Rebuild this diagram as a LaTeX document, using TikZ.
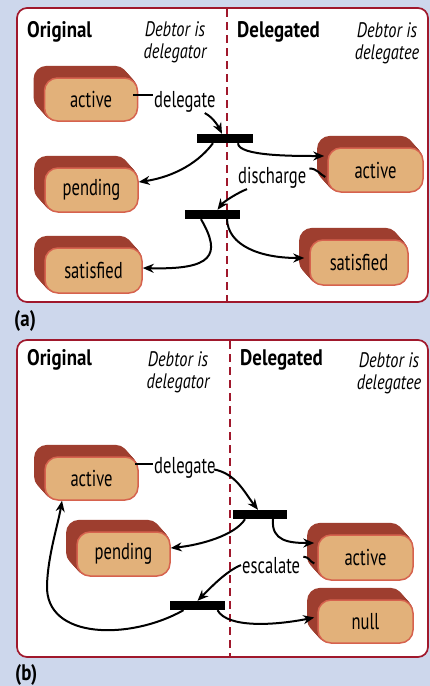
\documentclass[tikz,border=0pt]{standalone}
\usepackage{fontspec}
\setmainfont{PT Sans}[FakeStretch=0.72, BoldFeatures={FakeStretch=0.84}, ItalicFeatures={FakeStretch=0.78}]
\usetikzlibrary{arrows.meta,calc}

\definecolor{bgblue}{RGB}{205,215,236}
\definecolor{panelred}{RGB}{160,24,44}
\definecolor{facetan}{RGB}{226,177,122}
\definecolor{facerim}{RGB}{214,98,78}
\definecolor{extrude}{RGB}{158,62,47}

\pgfdeclarelayer{panel}
\pgfdeclarelayer{depth}
\pgfsetlayers{panel,depth,main}

\tikzset{
  stbox/.style={draw=facerim, fill=facetan, line width=1.5pt, rounded corners=13pt,
    minimum height=43pt, inner sep=0pt, font=\fontsize{23}{24}\selectfont},
  bar/.style={fill=black, minimum width=55pt, minimum height=9pt, inner sep=0pt},
  lbl/.style={font=\fontsize{23}{24}\selectfont, inner sep=1pt},
  hdr/.style={font=\fontsize{22.5}{24}\selectfont\bfseries, inner sep=0pt},
  hdri/.style={font=\fontsize{21}{21.5}\selectfont\itshape, inner sep=0pt, align=center},
  conn/.style={line width=2pt},
  arr/.style={line width=2pt, -{Stealth[length=11pt,width=9pt]}},
  divider/.style={panelred, line width=2pt, dash pattern=on 8pt off 5pt},
  frame/.style={draw=panelred, fill=white, line width=1.7pt, rounded corners=10pt},
}

% solid depth behind a state box, built from stacked copies of its face
\newcommand\depthof[1]{%
  \begin{pgfonlayer}{depth}
    \foreach \k in {1,...,12}{
      \fill[extrude, rounded corners=13pt]
        ($(#1.south west)+(-\k*0.85,-\k*0.95)$) rectangle ($(#1.north east)+(-\k*0.85,-\k*0.95)$);
    }
  \end{pgfonlayer}}

\begin{document}
\begin{tikzpicture}[x=1pt,y=-1pt]
  \useasboundingbox (0,0) rectangle (430,686);
  \begin{pgfonlayer}{panel}
    \fill[bgblue] (0,0) rectangle (430,686);
    \draw[frame] (17,8) rectangle (428,302);
    \draw[frame] (17,340) rectangle (428,657);
    \draw[divider] (227,9) -- (227,301);
    \draw[divider] (230,341) -- (230,656);
  \end{pgfonlayer}

  % ---------- (a) ----------
  \node[hdr, anchor=base west] (a-orig) at (27,37) {Original};
  \node[hdri, anchor=base] (a-dtr) at (175,58) {Debtor is\\delegator};
  \node[hdr, anchor=base west] (a-dlg) at (237,37) {Delegated};
  \node[hdri, anchor=base] (a-dte) at (387,59) {Debtor is\\delegatee};

  \node[stbox, minimum width=93pt] (a-act) at (91,99.5) {active};
  \node[stbox, minimum width=93pt, minimum height=44pt] (a-pend) at (91.5,190) {pending};
  \node[stbox, minimum width=97pt, minimum height=45pt] (a-sat) at (93.5,270.5) {satisfied};
  \node[stbox, minimum width=95pt, minimum height=44pt] (a-act2) at (375.5,170) {active};
  \node[stbox, minimum width=98pt, minimum height=45pt] (a-sat2) at (359,262.5) {satisfied};
  \depthof{a-act}\depthof{a-pend}\depthof{a-sat}\depthof{a-act2}\depthof{a-sat2}

  \node[bar, minimum width=56pt] (a-bar1) at (225,138.5) {};
  \node[bar] (a-bar2) at (212.5,214.5) {};

  \node[lbl, anchor=base west] (a-ldel) at (153,107) {delegate};
  \node[lbl, anchor=base west] (a-ldis) at (237,183) {discharge};

  \draw[conn] ([xshift=-5pt,yshift=5pt]a-act.east) -- ([yshift=5pt]a-act.east -| a-ldel.west);
  \draw[arr] ([xshift=-12pt]a-ldel.south east) .. controls +(8,4) and +(-4,-8) .. ([xshift=-3pt]a-bar1.north);
  \draw[arr] ([xshift=-12pt]a-bar1.south) .. controls +(-18,24) and +(28,-4) .. ([yshift=8pt]a-pend.east);
  \draw[arr] ([xshift=13pt]a-bar1.south) .. controls +(0,13) and +(-30,0) .. ([xshift=-3pt,yshift=14pt]a-act2.west);
  \draw[conn] ([xshift=2pt,yshift=-3pt]a-ldis.north east) .. controls +(8,0) and +(-6,-3) .. ([xshift=-2pt,yshift=-7pt]a-act2.west);
  \draw[arr] ([xshift=10pt]a-ldis.south west) .. controls +(-10,4) and +(6,-8) .. ([xshift=5pt]a-bar2.north);
  \draw[arr] ([xshift=-11.5pt]a-bar2.south) .. controls +(21,36) and +(70,2) .. ([yshift=2.5pt]a-sat.east);
  \draw[arr] ([xshift=14.5pt]a-bar2.south) .. controls +(1,26) and +(-45,0) .. ([xshift=-5pt,yshift=4.5pt]a-sat2.west);

  \node[hdr, anchor=base west] (a-tag) at (14,326) {(a)};

  % ---------- (b) ----------
  \node[hdr, anchor=base west] (b-orig) at (27,365) {Original};
  \node[hdri, anchor=base] (b-dtr) at (178,388) {Debtor is\\delegator};
  \node[hdr, anchor=base west] (b-dlg) at (240,365) {Delegated};
  \node[hdri, anchor=base] (b-dte) at (389,389) {Debtor is\\delegatee};

  \node[stbox, minimum width=93pt] (b-act) at (91.5,478.5) {active};
  \node[stbox, minimum width=93pt, minimum height=44pt] (b-pend) at (123.5,554) {pending};
  \node[stbox, minimum width=95pt, minimum height=45pt] (b-act2) at (365.5,557.5) {active};
  \node[stbox, minimum width=95pt] (b-null) at (365.5,621.5) {null};
  \depthof{b-act}\depthof{b-pend}\depthof{b-act2}\depthof{b-null}

  \node[bar, minimum width=54pt] (b-bar1) at (260,514.5) {};
  \node[bar] (b-bar2) at (197.5,605.5) {};

  \node[lbl, anchor=base west] (b-ldel) at (153,473) {delegate};
  \node[lbl, anchor=base west] (b-lesc) at (241,573) {escalate};
  \coordinate (b-loop) at (47,585);

  \draw[conn] ([xshift=-4pt,yshift=15pt]b-act.east) -- ([yshift=15pt]b-act.east -| b-ldel.west);
  \draw[arr] ([xshift=-3pt,yshift=-2pt]b-ldel.east) .. controls +(22,4) and +(-14,-18) .. ([xshift=-2pt]b-bar1.north);
  \draw[arr] ([xshift=-15pt]b-bar1.south) .. controls +(-10,16) and +(30,-3) .. ([yshift=6pt]b-pend.east);
  \draw[arr] ([xshift=13pt]b-bar1.south) .. controls +(-2,22) and +(-25,0) .. ([xshift=-3pt,yshift=14.5pt]b-act2.west);
  \draw[conn] ([xshift=2pt,yshift=-1pt]b-lesc.north east) .. controls +(7,1) and +(-6,-3) .. ([xshift=-3pt,yshift=-6pt]b-act2.west);
  \draw[arr] (b-lesc.west) .. controls +(-15,6) and +(12,-12) .. (b-bar2.north);
  \draw[arr] ([xshift=20pt]b-bar2.south) .. controls +(10,18) and +(-40,8) .. ([xshift=-3pt,yshift=4pt]b-null.west);
  \draw[arr] ([xshift=-14pt]b-bar2.south) .. controls +(-53,30) and +(-2,55) .. (b-loop)
    .. controls +(1,-30) and +(-4,24) .. ([xshift=-29.5pt]b-act.south);

  \node[hdr, anchor=base west] (b-tag) at (15,680) {(b)};
\end{tikzpicture}
\end{document}
